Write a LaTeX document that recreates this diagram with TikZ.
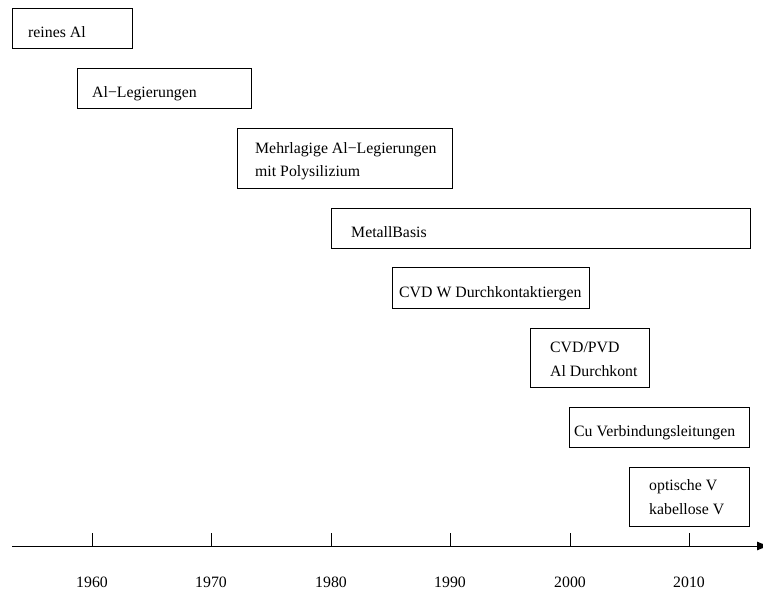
\documentclass[tikz,border=0pt]{standalone}
\usepackage{fontspec}
\setmainfont{Liberation Serif}
\usetikzlibrary{arrows.meta}
\begin{document}
\begin{tikzpicture}[x=1pt,y=-1pt,
  box/.style={draw, line width=0.9pt, rectangle, inner sep=0pt, anchor=north west},
  lbl/.style={anchor=base west, inner sep=0pt, font=\fontsize{15.8}{19}\selectfont},
  yr/.style={anchor=base, inner sep=0pt, font=\fontsize{15.8}{19}\selectfont},
  tick/.style={line width=0.9pt}]
\useasboundingbox (0,0) rectangle (763,589);
% boxes
\node[box, minimum width=120pt, minimum height=40pt] (b1) at (12,8) {};
\node[lbl] (t1) at (28,37) {reines Al};
\node[box, minimum width=174pt, minimum height=40pt] (b2) at (77,68) {};
\node[lbl] (t2) at (92,97) {Al\textminus Legierungen};
\node[box, minimum width=215pt, minimum height=60pt] (b3) at (237,128) {};
\node[lbl] (t3a) at (255,153) {Mehrlagige Al\textminus Legierungen};
\node[lbl] (t3b) at (255,176) {mit Polysilizium};
\node[box, minimum width=419pt, minimum height=40pt] (b4) at (331,208) {};
\node[lbl] (t4) at (351,237) {MetallBasis};
\node[box, minimum width=197pt, minimum height=41pt] (b5) at (392,267) {};
\node[lbl] (t5) at (399,297) {CVD W Durchkontaktiergen};
\node[box, minimum width=119pt, minimum height=59pt] (b6) at (530,328) {};
\node[lbl] (t6a) at (550,352) {CVD/PVD};
\node[lbl] (t6b) at (550,376) {Al Durchkont};
\node[box, minimum width=180pt, minimum height=40pt] (b7) at (569,407) {};
\node[lbl] (t7) at (574,436) {Cu Verbindungsleitungen};
\node[box, minimum width=120pt, minimum height=59pt] (b8) at (629,467) {};
\node[lbl] (t8a) at (649,490) {optische V};
\node[lbl] (t8b) at (649,514) {kabellose V};
% axis
\coordinate (a0) at (12,546);
\coordinate (a1) at (770,546);
\draw[line width=0.9pt, -{Latex[length=13pt,width=9pt]}] (a0) -- (a1);
\foreach \x/\y in {92/1960,211/1970,331/1980,450/1990,570/2000,689/2010}{
  \coordinate (c\y) at (\x,546);
  \coordinate (d\y) at (\x,533);
  \draw[tick] (c\y) -- (d\y);
  \node[yr] (y\y) at (\x,587) {\y};
}
\end{tikzpicture}
\end{document}
